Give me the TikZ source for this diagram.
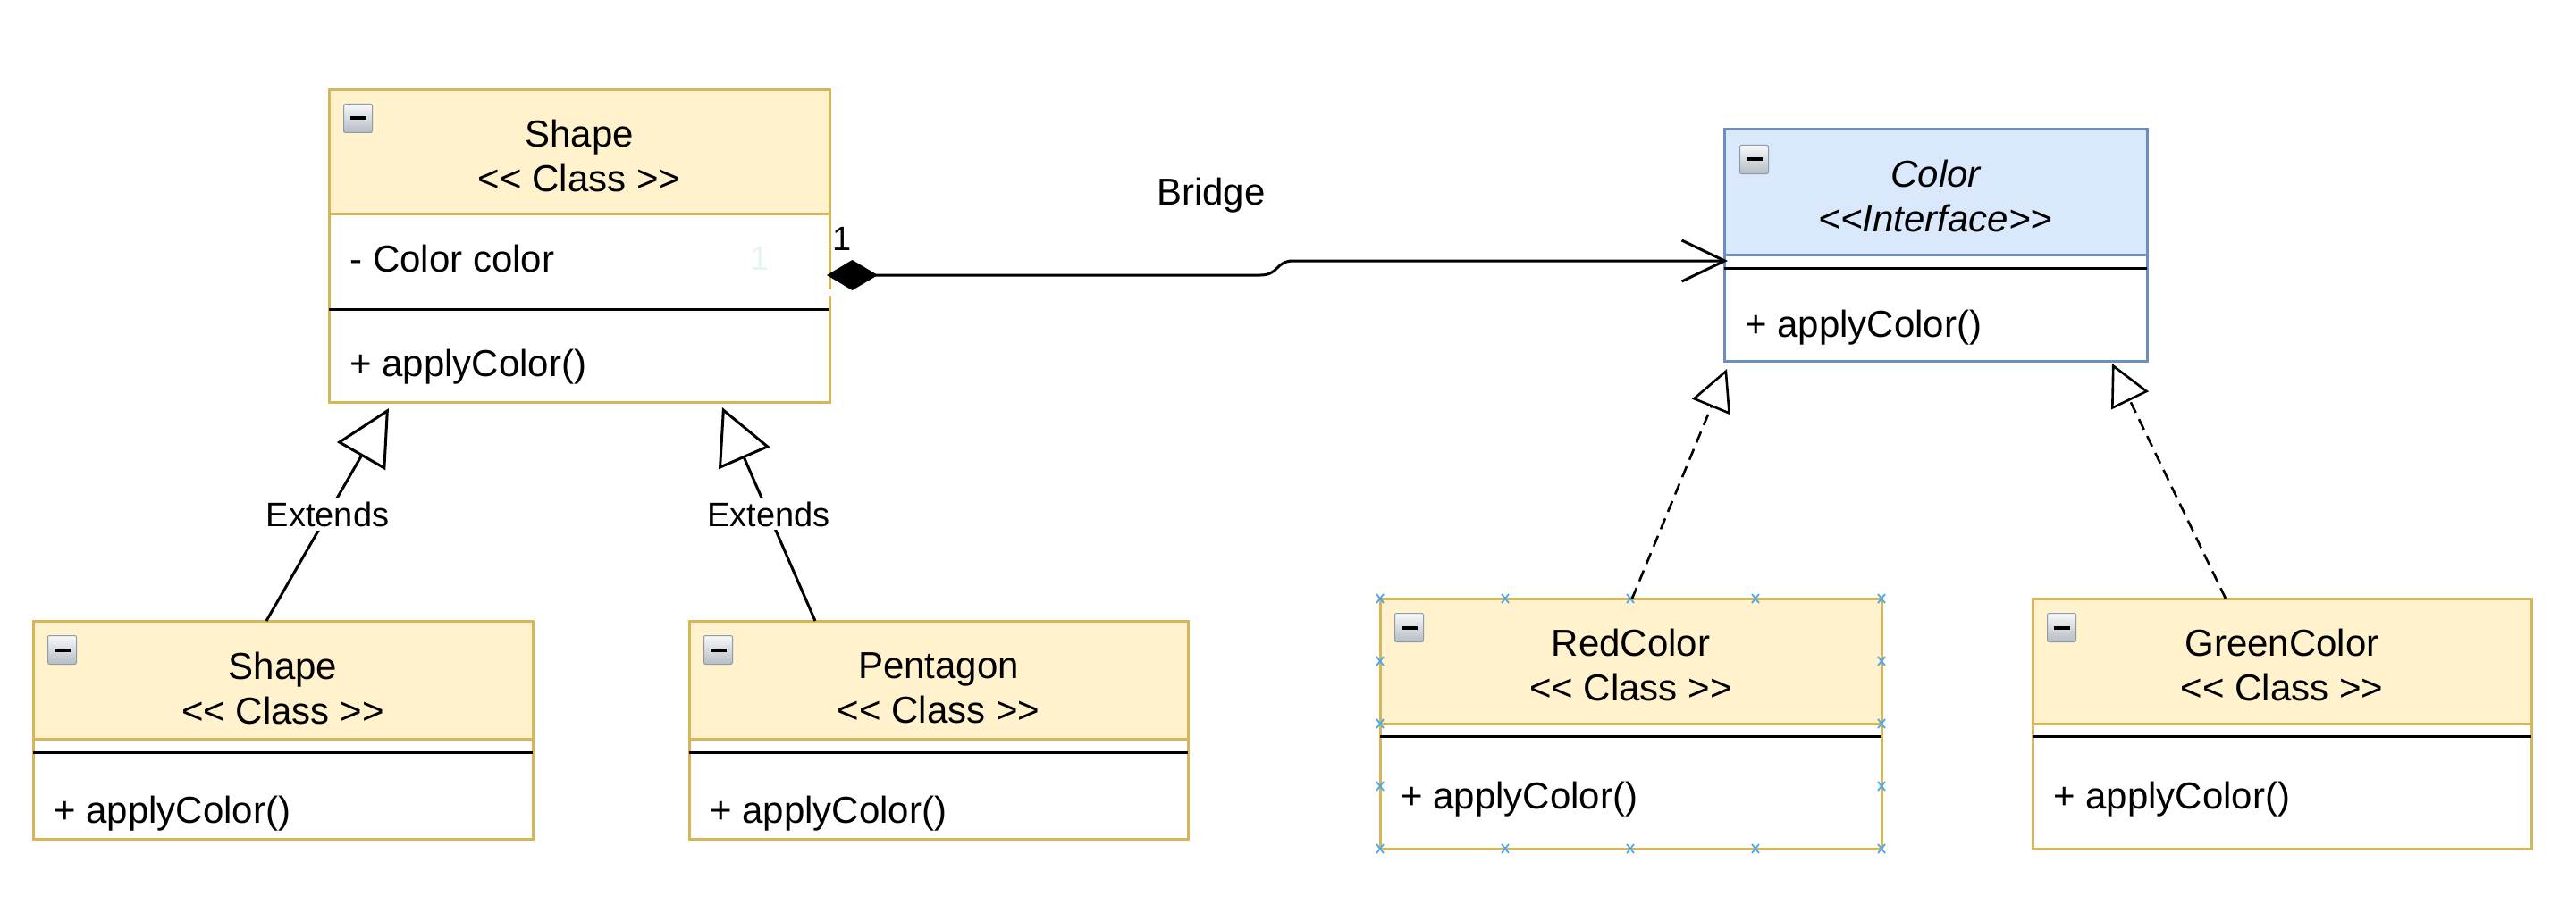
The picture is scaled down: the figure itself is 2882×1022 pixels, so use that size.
\documentclass[tikz,border=0pt]{standalone}
\usepackage{fontspec}
\setmainfont{Liberation Sans}[Ligatures=TeXOff]
\usetikzlibrary{arrows.meta}
\definecolor{yfill}{HTML}{FFF2CC}
\definecolor{ybord}{HTML}{D6B656}
\definecolor{bfill}{HTML}{DAE8FC}
\definecolor{bbord}{HTML}{6C8EBF}
\definecolor{handle}{HTML}{4FA8E8}
\definecolor{faint}{HTML}{E2F7F0}
\definecolor{iconbord}{HTML}{8C9CAC}
\definecolor{icontop}{HTML}{F8F9FA}
\definecolor{iconbot}{HTML}{B5BCC4}
\begin{document}
\begin{tikzpicture}[x=0.5pt,y=-0.5pt,
  hdr/.style={draw=ybord, fill=yfill, line width=1.5pt, inner sep=0pt, outer sep=0pt, anchor=north west},
  bdy/.style={draw=ybord, fill=white, line width=1.5pt, inner sep=0pt, outer sep=0pt, anchor=north west},
  ihdr/.style={hdr, draw=bbord, fill=bfill},
  ibdy/.style={bdy, draw=bbord},
  title/.style={align=center, inner sep=0pt, font=\fontsize{21}{25}\selectfont},
  ititle/.style={title, font=\fontsize{21}{25}\selectfont\itshape},
  sepline/.style={line width=1.5pt, black},
  member/.style={anchor=west, inner sep=0pt, font=\fontsize{21}{25}\selectfont},
  icon/.style={anchor=north west, minimum size=16pt, inner sep=0pt, draw=iconbord, line width=0.5pt,
    top color=icontop, bottom color=iconbot, rounded corners=1pt,
    path picture={\draw[line width=2pt, black] ([xshift=3.5pt]path picture bounding box.west) -- ([xshift=-3.5pt]path picture bounding box.east);}},
  lbl/.style={font=\fontsize{19}{22}\selectfont, fill=white, inner sep=2pt},
  mult/.style={font=\fontsize{19}{22}\selectfont, inner sep=0pt},
  conn/.style={line width=1.5pt, black},
  dashconn/.style={line width=1.3pt, black, dash pattern=on 6.5pt off 4pt},
  handlemark/.style={draw=handle, line width=0.9pt}
]
\useasboundingbox (0,0) rectangle (2882,1022);

% ---------- Shape (top) ----------
\node[hdr, minimum width=280pt, minimum height=69pt] (shapeTh) at (368,101) {};
\node[title, yshift=-2pt] (shapeTt) at (shapeTh.center) {Shape\\<< Class >>};
\node[bdy, minimum width=280pt, minimum height=105.5pt] (shapeTb) at (368,239) {};
\draw[sepline] (368,346) -- (928,346);
\node[icon] (shapeTi) at ([xshift=8pt,yshift=-7.5pt]shapeTh.north west) {};
\node[member] (shapeTa) at (391,289) {- Color color};
\node[member] (shapeTm) at (391,411) {+ applyColor()};
\node[mult, text=faint] (faint1) at (850,289) {1};
\fill[white] (925.5,324) rectangle (930.5,331);

% ---------- Color (interface) ----------
\node[ihdr, minimum width=236.5pt, minimum height=70pt] (colorh) at (1929,145) {};
\node[ititle, yshift=-2pt] (colort) at (colorh.center) {Color\\<<Interface>>};
\node[ibdy, minimum width=236.5pt, minimum height=59.5pt] (colorb) at (1929,285) {};
\draw[sepline] (1929,300) -- (2402,300);
\node[icon] (colori) at ([xshift=8.5pt,yshift=-8.5pt]colorh.north west) {};
\node[member] (colorm) at (1952,367) {+ applyColor()};

% ---------- Shape (bottom) ----------
\node[hdr, minimum width=279.5pt, minimum height=66pt] (shapeBh) at (37,695) {};
\node[title, yshift=-4.5pt] (shapeBt) at (shapeBh.center) {Shape\\<< Class >>};
\node[bdy, minimum width=279.5pt, minimum height=56pt] (shapeBb) at (37,827) {};
\draw[sepline] (37,842) -- (596,842);
\node[icon] (shapeBi) at ([xshift=8pt,yshift=-8pt]shapeBh.north west) {};
\node[member] (shapeBm) at (60,911) {+ applyColor()};

% ---------- Pentagon ----------
\node[hdr, minimum width=279pt, minimum height=66pt] (pentah) at (771,695) {};
\node[title, yshift=-4.5pt] (pentat) at (pentah.center) {Pentagon\\<< Class >>};
\node[bdy, minimum width=279pt, minimum height=56pt] (pentab) at (771,827) {};
\draw[sepline] (771,842) -- (1329,842);
\node[icon] (pentai) at ([xshift=8pt,yshift=-8pt]pentah.north west) {};
\node[member] (pentam) at (794,911) {+ applyColor()};

% ---------- RedColor ----------
\node[hdr, minimum width=280.5pt, minimum height=70pt] (redh) at (1544,670) {};
\node[title, yshift=-2pt] (redt) at (redh.center) {RedColor\\<< Class >>};
\node[bdy, minimum width=280.5pt, minimum height=70pt] (redb) at (1544,810) {};
\draw[sepline] (1544,824) -- (2105,824);
\node[icon] (redi) at ([xshift=8pt,yshift=-8pt]redh.north west) {};
\node[member] (redm) at (1567,895) {+ applyColor()};

% ---------- GreenColor ----------
\node[hdr, minimum width=279pt, minimum height=70pt] (greenh) at (2274,670) {};
\node[title, yshift=-2pt] (greent) at (greenh.center) {GreenColor\\<< Class >>};
\node[bdy, minimum width=279pt, minimum height=70pt] (greenb) at (2274,810) {};
\draw[sepline] (2274,824) -- (2832,824);
\node[icon] (greeni) at ([xshift=8pt,yshift=-8pt]greenh.north west) {};
\node[member] (greenm) at (2297,895) {+ applyColor()};

% ---------- selection handles on RedColor ----------
\foreach \hx in {1544,1684,1824,1964,2105} {
  \draw[handlemark] (\hx-4,665) -- (\hx+4,675) (\hx-4,675) -- (\hx+4,665);
  \draw[handlemark] (\hx-4,945) -- (\hx+4,955) (\hx-4,955) -- (\hx+4,945);
}
\foreach \hy in {740,810,880} {
  \draw[handlemark] (1540,\hy-5) -- (1548,\hy+5) (1540,\hy+5) -- (1548,\hy-5);
  \draw[handlemark] (2101,\hy-5) -- (2109,\hy+5) (2101,\hy+5) -- (2109,\hy-5);
}

% ---------- Bridge connector ----------
\coordinate (bA) at (925,308);
\coordinate (bB) at (1933,292);
\draw[conn, {Diamond[length=28.5pt,width=17pt]}-{Straight Barb[length=24pt,width=23pt]}]
  (bA) -- (1410,308) .. controls (1431,308) and (1427,292) .. (1447,292) -- (bB);
\node[font=\fontsize{21}{25}\selectfont, inner sep=0pt] (bridge) at (1355,219) {Bridge};
\node[mult] (mult1) at (942,267) {1};

% ---------- Extends connectors ----------
\coordinate (e1s) at (298,695);
\coordinate (e1t) at (435,457);
\draw[conn, -{Triangle[open,length=31pt,width=31pt]}] (e1s) -- (e1t)
  node[lbl, pos=0.5] (ext1) {Extends};
\coordinate (e2s) at (912,695);
\coordinate (e2t) at (808,456);
\draw[conn, -{Triangle[open,length=31pt,width=31pt]}] (e2s) -- (e2t)
  node[lbl, pos=0.5] (ext2) {Extends};

% ---------- Realization connectors ----------
\coordinate (r1s) at (1826,670);
\coordinate (r1t) at (1932,413);
\draw[dashconn, -{Triangle[open,length=23pt,width=23pt]}] (r1s) -- (r1t);
\coordinate (r2s) at (2490,670);
\coordinate (r2t) at (2363,407);
\draw[dashconn, -{Triangle[open,length=23pt,width=23pt]}] (r2s) -- (r2t);
\end{tikzpicture}
\end{document}
